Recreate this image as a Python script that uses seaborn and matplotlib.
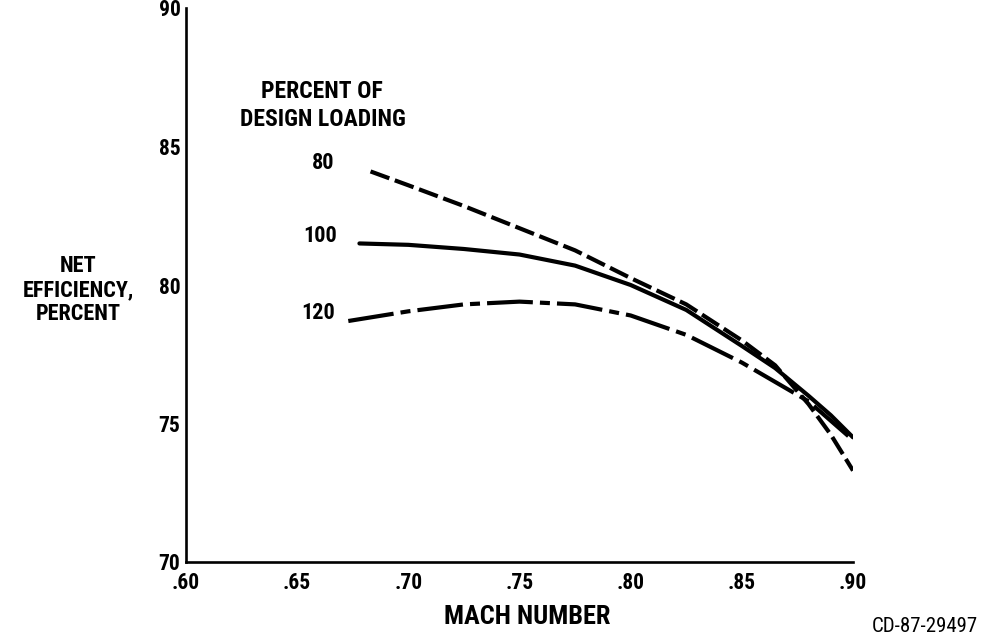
import matplotlib
matplotlib.use("Agg")
import matplotlib.pyplot as plt
from matplotlib import font_manager
from matplotlib.font_manager import FontProperties
import seaborn as sns
import pandas as pd

# ---- data ----
mach_80 = [0.683, 0.70, 0.725, 0.75, 0.775, 0.80, 0.825, 0.85, 0.865, 0.88, 0.89, 0.90]
eff_80 = [84.1, 83.6, 82.85, 82.05, 81.25, 80.25, 79.3, 78.0, 77.1, 75.7, 74.6, 73.3]

mach_100 = [0.678, 0.70, 0.725, 0.75, 0.775, 0.80, 0.825, 0.85, 0.865, 0.88, 0.89, 0.90]
eff_100 = [81.5, 81.45, 81.3, 81.1, 80.7, 80.0, 79.1, 77.8, 77.0, 76.0, 75.3, 74.5]

mach_120 = [0.673, 0.70, 0.725, 0.75, 0.775, 0.80, 0.825, 0.85, 0.865, 0.88, 0.89, 0.90]
eff_120 = [78.7, 79.05, 79.3, 79.4, 79.3, 78.9, 78.2, 77.2, 76.5, 75.8, 75.1, 74.4]

loadings = ["80", "100", "120"]
x_ticks = [0.60, 0.65, 0.70, 0.75, 0.80, 0.85, 0.90]
x_ticklabels = [".60", ".65", ".70", ".75", ".80", ".85", ".90"]
y_ticks = [70, 75, 80, 85, 90]
y_ticklabels = ["70", "75", "80", "85", "90"]

df = pd.concat([
    pd.DataFrame({"mach": mach_80, "eff": eff_80, "loading": loadings[0]}),
    pd.DataFrame({"mach": mach_100, "eff": eff_100, "loading": loadings[1]}),
    pd.DataFrame({"mach": mach_120, "eff": eff_120, "loading": loadings[2]}),
], ignore_index=True)

sns.set_theme(style="white")
plt.rcParams["font.family"] = ["Liberation Sans", "DejaVu Sans"]
for k in ["text.color", "axes.labelcolor", "xtick.color", "ytick.color", "axes.edgecolor"]:
    plt.rcParams[k] = "black"


def _is_cond(f):
    st = f.stretch
    if isinstance(st, str):
        if "condensed" in st:
            return True
    elif isinstance(st, (int, float)) and st < 500:
        return True
    return ("Narrow" in f.name) or ("Condensed" in f.name)


def _wt(f):
    w = f.weight
    if isinstance(w, str):
        return {"bold": 700, "heavy": 800, "black": 900, "semibold": 600,
                "demibold": 600, "medium": 500}.get(w, 400)
    return int(w)


def find_cond(bold):
    pref = ["Liberation Sans Narrow", "Roboto Condensed", "DejaVu Sans",
            "Noto Sans", "Open Sans", "Open Sans Condensed", "Noto Sans Display"]
    cands = []
    for f in font_manager.fontManager.ttflist:
        if not _is_cond(f) or f.style != "normal":
            continue
        w = _wt(f)
        if bold and w < 650:
            continue
        if not bold and not (350 <= w <= 450):
            continue
        if "Mono" in f.name or "Serif" in f.name or "ExtraCondensed" in f.fname \
                or "SemiCondensed" in f.fname:
            continue
        rank = pref.index(f.name) if f.name in pref else len(pref)
        cands.append((rank, abs(w - (700 if bold else 400)), f.fname))
    if cands:
        cands.sort()
        return cands[0][2]
    return None


bold_path = find_cond(True)
reg_path = find_cond(False)


def fp(size, bold=True):
    path = bold_path if bold else reg_path
    if path:
        return FontProperties(fname=path, size=size)
    return FontProperties(family=["Liberation Sans", "DejaVu Sans"],
                          weight="bold" if bold else "normal", size=size * 0.9)


W, H = 981, 638
fig = plt.figure(figsize=(W / 100, H / 100), dpi=100)
left, right, bottom, top = 186, 853, 562, 8
ax = fig.add_axes([left / W, 1 - bottom / H, (right - left) / W, (bottom - top) / H])

sns.lineplot(data=df, x="mach", y="eff", hue="loading", style="loading",
             palette={k: "black" for k in loadings},
             dashes={"80": (4.8, 1.4), "100": "", "120": (11.0, 1.7, 2.4, 1.7)},
             linewidth=3.0, sort=True, estimator=None, legend=False, ax=ax)

ax.set_xlim(0.60, 0.90)
ax.set_ylim(70, 90)
ax.set_xticks(x_ticks)
ax.set_xticklabels(x_ticklabels)
ax.set_yticks(y_ticks)
ax.set_yticklabels(y_ticklabels)
ax.set_xlabel("")
ax.set_ylabel("")
for s in ["top", "right"]:
    ax.spines[s].set_visible(False)
for s in ["left", "bottom"]:
    ax.spines[s].set_color("black")
    ax.spines[s].set_linewidth(1.9)
ax.tick_params(axis="both", direction="in", length=19, width=1.9, color="black",
               labelcolor="black")
ax.tick_params(axis="x", pad=7)
ax.tick_params(axis="y", pad=4)
for lab in ax.get_xticklabels() + ax.get_yticklabels():
    lab.set_fontproperties(fp(15.5))
ax.set_facecolor("white")
fig.patch.set_facecolor("white")


def ftext(x, y, s, size, bold=True, **kw):
    fig.text(x / W, 1 - y / H, s, fontproperties=fp(size, bold), color="black", **kw)


ftext(322, 91, "PERCENT OF", 17, ha="center", va="center")
ftext(323, 119, "DESIGN LOADING", 17, ha="center", va="center")
ftext(323, 163, loadings[0], 16, ha="center", va="center")
ftext(320, 236, loadings[1], 16, ha="center", va="center")
ftext(318, 313, loadings[2], 16, ha="center", va="center")
ftext(78, 290, "NET\nEFFICIENCY,\nPERCENT", 16, ha="center", va="center",
      linespacing=1.1, multialignment="center")
ftext(527, 617, "MACH NUMBER", 19, ha="center", va="center")
ftext(978, 627, "CD-87-29497", 15, bold=False, ha="right", va="center")

fig.savefig("out.png", dpi=100, facecolor="white")
